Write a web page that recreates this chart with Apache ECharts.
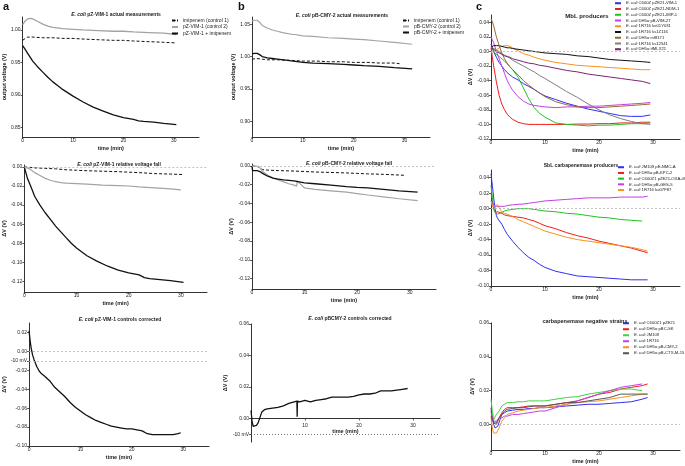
<!DOCTYPE html>
<html><head><meta charset="utf-8">
<script src="https://cdn.jsdelivr.net/npm/echarts@6/dist/echarts.min.js"></script>
<style>html,body{margin:0;padding:0;background:#fff}#c{width:685px;height:466px}</style>
</head><body><div id="c"></div>
<script>
// ---------- DATA ----------
// panel a (E. coli pZ-VIM-1)
const tA1Imi = [0,0.5,1,2,4,6,8,10,12,15,18,20,22,25,28,30.5];
const vA1Imi = [0.984,0.987,0.989,0.989,0.988,0.988,0.987,0.987,0.986,0.985,0.984,0.984,0.983,0.982,0.981,0.980];
const tA1Ctl = [0,0.5,1,1.5,2,3,4,5,6,8,10,12,15,18,20,22,25,28,30.5];
const vA1Ctl = [1.008,1.014,1.017,1.018,1.017,1.013,1.009,1.006,1.004,1.002,1.001,1.000,0.999,0.998,0.998,0.997,0.996,0.995,0.993];
const tA1Main = [0,0.5,1,2,3,4,5,6,7,8,10,12,14,16,18,20,22,23,24,26,28,30.5];
const vA1Main = [0.976,0.970,0.964,0.952,0.943,0.935,0.927,0.920,0.914,0.908,0.898,0.889,0.881,0.875,0.869,0.865,0.862,0.860,0.859,0.858,0.856,0.854];

const tA2Imi = [0,1,2,4,6,8,10,12,15,18,20,22,25,28,30.5];
const vA2Imi = [0,-0.0005,-0.001,-0.0015,-0.002,-0.003,-0.0035,-0.004,-0.0045,-0.005,-0.0055,-0.006,-0.007,-0.0075,-0.008];
const tA2Ctl = [0,0.5,1,1.5,2,3,4,5,6,7,8,10,12,15,18,20,22,25,28,30];
const vA2Ctl = [0,-0.001,-0.002,-0.004,-0.006,-0.009,-0.012,-0.014,-0.0155,-0.0165,-0.017,-0.0175,-0.018,-0.019,-0.0195,-0.02,-0.021,-0.022,-0.023,-0.024];
const tA2Main = [0,0.3,0.6,1,1.5,2,3,4,5,6,7,8,9,10,12,14,16,18,20,22,23,24,26,28,30.5];
const vA2Main = [0,-0.006,-0.012,-0.017,-0.024,-0.031,-0.040,-0.048,-0.055,-0.062,-0.068,-0.074,-0.080,-0.085,-0.093,-0.099,-0.104,-0.108,-0.111,-0.113,-0.116,-0.117,-0.118,-0.119,-0.121];

const tA3 = [0,0.2,0.4,0.7,1,1.5,2,2.5,3,4,5,6,7,8,9,10,11,12,13,14,15,16,17,18,19,20,21,22,23,24,25,26,27,28,29,29.5];
const vA3 = [0.022,0.012,0.004,-0.004,-0.009,-0.016,-0.021,-0.024,-0.026,-0.031,-0.038,-0.043,-0.048,-0.054,-0.059,-0.063,-0.067,-0.070,-0.073,-0.075,-0.077,-0.079,-0.080,-0.081,-0.082,-0.082,-0.083,-0.084,-0.087,-0.088,-0.088,-0.088,-0.088,-0.088,-0.087,-0.086];

// panel b (E. coli pB-CMY-2)
const tB1Imi = [0,1,2,3,5,8,10,13,15,18,20,23,25,28,29];
const vB1Imi = [0.996,0.997,0.996,0.995,0.995,0.994,0.993,0.993,0.992,0.992,0.991,0.991,0.990,0.990,0.989];
const tB1Ctl = [0,0.5,1,1.5,2,3,4,5,6,8,8.3,8.4,10,12,15,18,20,22,25,28,31.5];
const vB1Ctl = [1.055,1.056,1.056,1.053,1.048,1.044,1.041,1.039,1.037,1.034,1.037,1.034,1.032,1.031,1.029,1.028,1.027,1.026,1.024,1.022,1.019];
const tB1Main = [0,0.5,1,1.5,2,3,4,5,7,10,12,15,18,20,22,25,28,31.5];
const vB1Main = [1.004,1.005,1.005,1.003,1.000,0.998,0.997,0.996,0.994,0.991,0.990,0.989,0.988,0.987,0.986,0.985,0.983,0.981];

const tB2Imi = [0,1,1.5,2,3,5,8,10,12,15,18,20,22,25,27,29];
const vB2Imi = [0,-0.0005,-0.002,-0.004,-0.0045,-0.005,-0.0055,-0.006,-0.0065,-0.007,-0.0075,-0.008,-0.0085,-0.009,-0.0095,-0.010];
const tB2Ctl = [0,1,1.5,2,3,4,5,6,7,8,8.5,8.6,10,12,15,18,20,22,25,28,31.5];
const vB2Ctl = [0,-0.0005,-0.002,-0.006,-0.010,-0.013,-0.015,-0.017,-0.019,-0.0205,-0.0215,-0.016,-0.0235,-0.025,-0.0265,-0.028,-0.0295,-0.031,-0.033,-0.035,-0.037];
const tB2Main = [0,0.1,1,1.5,2,3,4,5,6,8,10,12,15,18,20,22,25,28,31.5];
const vB2Main = [0,-0.005,-0.005,-0.006,-0.008,-0.011,-0.013,-0.014,-0.015,-0.016,-0.018,-0.019,-0.0205,-0.022,-0.0228,-0.0235,-0.025,-0.0265,-0.028];

const tB3 = [0,0.2,0.4,0.7,1,1.3,1.6,2,2.5,3,4,5,6,7,8,8.5,8.55,8.6,9,10,11,12,13,14,15,16,17,18,19,20,21,22,23,24,25,26,27,28,29];
const vB3 = [0.005,-0.002,-0.005,-0.005,-0.0045,-0.003,0.000,0.004,0.0055,0.006,0.0065,0.007,0.008,0.0095,0.0105,0.011,0.001,0.011,0.0105,0.0115,0.0105,0.0115,0.012,0.0125,0.0135,0.0135,0.0135,0.0135,0.014,0.015,0.0155,0.0155,0.016,0.0175,0.0175,0.0175,0.018,0.0185,0.019];

// panel c top: MbL producers
const tC1 = [0,0.25,0.5,1,1.5,2,2.5,3,3.5,4,5,6,7,8,9,10,12,14,16,18,20,22,24,26,28,29.5];
const c1VIM1 = [0.010,0.006,0.000,-0.008,-0.015,-0.020,-0.025,-0.029,-0.032,-0.035,-0.039,-0.044,-0.048,-0.052,-0.057,-0.061,-0.066,-0.071,-0.075,-0.079,-0.082,-0.085,-0.088,-0.089,-0.089,-0.087];
const c1NDM1 = [0.005,-0.008,-0.020,-0.042,-0.060,-0.072,-0.080,-0.086,-0.090,-0.093,-0.097,-0.099,-0.100,-0.100,-0.100,-0.100,-0.100,-0.100,-0.0995,-0.0995,-0.099,-0.099,-0.098,-0.098,-0.097,-0.097];
const c1IMP1 = [0.005,0.003,0.000,-0.004,-0.007,-0.010,-0.013,-0.017,-0.021,-0.025,-0.035,-0.050,-0.065,-0.077,-0.085,-0.090,-0.098,-0.100,-0.101,-0.102,-0.101,-0.101,-0.100,-0.099,-0.099,-0.098];
const c1VIM27 = [0.020,0.016,0.012,0.000,-0.010,-0.020,-0.030,-0.040,-0.047,-0.053,-0.062,-0.068,-0.072,-0.074,-0.075,-0.076,-0.077,-0.076,-0.076,-0.075,-0.075,-0.074,-0.073,-0.072,-0.071,-0.070];
const c1Y031 = [0.000,-0.003,-0.004,0.002,0.005,0.007,0.008,0.008,0.007,0.005,0.001,-0.003,-0.005,-0.008,-0.010,-0.012,-0.015,-0.017,-0.019,-0.020,-0.021,-0.022,-0.023,-0.024,-0.025,-0.025];
const c1Z116 = [0.006,0.007,0.008,0.008,0.008,0.007,0.006,0.005,0.005,0.004,0.003,0.002,0.001,0.000,-0.001,-0.002,-0.003,-0.004,-0.006,-0.007,-0.009,-0.011,-0.012,-0.013,-0.014,-0.015];
const c1B171 = [0.045,0.041,0.035,0.020,0.008,-0.002,-0.010,-0.016,-0.021,-0.025,-0.032,-0.040,-0.046,-0.052,-0.057,-0.062,-0.069,-0.073,-0.076,-0.077,-0.077,-0.076,-0.075,-0.074,-0.073,-0.072];
const c1Z541 = [0.006,0.005,0.004,0.002,0.000,-0.003,-0.005,-0.007,-0.009,-0.012,-0.016,-0.020,-0.024,-0.028,-0.033,-0.037,-0.046,-0.055,-0.063,-0.072,-0.080,-0.087,-0.092,-0.096,-0.099,-0.100];
const c1MLX = [0.005,0.004,0.003,0.000,-0.002,-0.004,-0.006,-0.007,-0.008,-0.010,-0.012,-0.014,-0.016,-0.017,-0.019,-0.020,-0.023,-0.026,-0.028,-0.031,-0.033,-0.035,-0.037,-0.039,-0.041,-0.044];

// panel c middle: SbL carbapenemase producers
const tC2 = [0,0.25,0.5,0.75,1,1.25,1.5,2,2.5,3,4,5,6,7,8,9,10,12,14,16,18,20,22,24,26,28,29];
const c2NMC = [0.045,0.030,0.014,0.000,-0.009,-0.013,-0.015,-0.020,-0.027,-0.033,-0.042,-0.050,-0.057,-0.063,-0.067,-0.072,-0.076,-0.081,-0.084,-0.087,-0.088,-0.089,-0.090,-0.091,-0.092,-0.092,-0.092];
const c2KPC = [0.020,0.010,0.000,-0.005,-0.006,-0.004,-0.003,-0.006,-0.008,-0.009,-0.010,-0.011,-0.012,-0.014,-0.016,-0.019,-0.022,-0.026,-0.031,-0.035,-0.038,-0.042,-0.045,-0.048,-0.051,-0.055,-0.057];
const c2OXA = [0.030,0.015,0.000,-0.005,-0.007,-0.007,-0.006,-0.005,-0.003,-0.002,-0.001,0.000,0.000,0.000,-0.001,-0.002,-0.003,-0.004,-0.006,-0.007,-0.009,-0.011,-0.012,-0.014,-0.015,-0.016,null];
const c2GES = [0.010,0.007,0.004,0.003,0.003,0.003,0.003,0.003,0.003,0.004,0.005,0.0056,0.006,0.007,0.008,0.009,0.010,0.011,0.012,0.013,0.014,0.014,0.014,0.015,0.015,0.015,0.016];
const c2F87 = [0.010,0.003,0.002,0.004,0.005,0.005,0.001,-0.004,-0.006,-0.007,-0.010,-0.014,-0.017,-0.020,-0.023,-0.026,-0.029,-0.033,-0.037,-0.040,-0.042,-0.044,-0.046,-0.048,-0.050,-0.053,-0.055];

// panel c bottom: carbapenemase negative strains
const tC3 = [0,0.25,0.5,0.75,1,1.25,1.5,2,2.5,3,4,5,6,7,8,9,10,12,14,16,18,20,22,24,26,28,29];
const c3ZE21 = [0.010,0.004,0.000,-0.002,-0.002,-0.001,0.000,0.006,0.007,0.008,0.0085,0.009,0.009,0.0095,0.0095,0.010,0.010,0.0105,0.011,0.0115,0.012,0.012,0.0125,0.013,0.0135,0.015,0.016];
const c3BCSK = [0.008,0.004,0.001,0.000,0.000,0.002,0.004,0.007,0.009,0.010,0.010,0.010,0.0105,0.011,0.011,0.011,0.011,0.012,0.013,0.014,0.016,0.018,0.019,0.021,0.022,0.023,0.024];
const c3JM = [0.015,0.008,0.003,0.004,0.006,0.007,0.008,0.011,0.012,0.013,0.013,0.0135,0.0135,0.014,0.014,0.014,0.014,0.015,0.016,0.0165,0.018,0.019,0.020,0.021,0.021,0.020,null];
const c3R716 = [0.006,0.004,0.002,0.002,0.002,0.003,0.004,0.004,0.005,0.005,0.006,0.006,0.0065,0.007,0.0075,0.008,0.008,0.010,0.012,0.014,0.016,0.018,0.020,0.022,0.023,0.024,null];
const c3CMY = [0.004,-0.002,-0.005,-0.005,-0.005,-0.004,-0.002,0.002,0.004,0.006,0.007,0.008,0.0085,0.009,0.0095,0.010,0.010,0.011,0.012,0.013,0.0135,0.014,0.015,0.016,0.017,0.018,0.018];
const c3CTX = [0.005,0.003,0.001,0.001,0.001,0.002,0.004,0.006,0.008,0.009,0.0095,0.010,0.010,0.0105,0.011,0.011,0.011,0.012,0.013,0.013,0.014,0.015,0.016,0.018,0.018,0.018,0.018];

// tick labels
const xTicks = [0,10,20,30];
const xTicksB3 = [10,20,30];
const yTicksA1 = [0.85,0.90,0.95,1.00];
const yTicksB1 = [0.90,0.95,1.00,1.05];
const yTicksRel = [-0.12,-0.10,-0.08,-0.06,-0.04,-0.02,0];
const yTicksA3 = [-0.10,-0.08,-0.06,-0.04,-0.02,-0.01,0,0.02];
const yTicksB3 = [-0.01,0,0.02,0.04,0.06];
const yTicksC1 = [-0.12,-0.10,-0.08,-0.06,-0.04,-0.02,0,0.02,0.04];
const yTicksC2 = [-0.10,-0.08,-0.06,-0.04,-0.02,0,0.02,0.04];
const yTicksC3 = [0,0.02,0.04,0.06];

// ---------- CHART ----------
const F = '"Liberation Sans", Arial, sans-serif';
const INK = '#222';
const zip = (t, v) => t.map((x, i) => [x, v[i]]);
const yFmt = v => Math.abs(v + 0.01) < 1e-9 ? '-10 mV' : v.toFixed(2);
const ital = n => n.indexOf('E. coli') === 0 ? '{i|E. coli}' + n.slice(7) : n;

const grids = [], xAxes = [], yAxes = [], series = [], titles = [], legends = [];

function panel(p) {
  const gi = grids.length;
  grids.push({left: p.left, top: p.top, width: p.width, height: p.height});
  xAxes.push({
    type: 'value', gridIndex: gi, min: 0, max: 35, offset: p.xOffset || 0,
    axisLine: {show: true, onZero: false, lineStyle: {color: '#333', width: 1}},
    axisTick: {show: true, length: 2, customValues: p.xTicks || xTicks, lineStyle: {color: '#333', width: 0.8}},
    axisLabel: {customValues: p.xTicks || xTicks, fontSize: 5, color: INK, margin: p.xMargin || 1.5, fontFamily: F},
    splitLine: {show: false},
    name: 'time (min)', nameLocation: 'middle', nameGap: p.xNameGap || 8,
    nameTextStyle: {fontSize: 5.5, fontWeight: 'bold', color: INK, fontFamily: F}
  });
  yAxes.push({
    type: 'value', gridIndex: gi, min: p.ymin, max: p.ymax,
    axisLine: {show: true, onZero: false, lineStyle: {color: '#333', width: 1}},
    axisTick: {show: true, length: 2, customValues: p.yTicks, lineStyle: {color: '#333', width: 0.8}},
    axisLabel: {customValues: p.yTicks, formatter: yFmt, fontSize: 5, color: INK, margin: 2, fontFamily: F},
    splitLine: {show: false},
    name: p.yName, nameLocation: 'middle', nameGap: p.yNameGap,
    nameTextStyle: {fontSize: 5.5, fontWeight: 'bold', color: INK, fontFamily: F}
  });
  titles.push({
    text: p.title, left: p.tx, top: p.ty, textAlign: 'center',
    textStyle: {fontSize: p.tfs || 5, fontWeight: 'bold', color: INK, fontFamily: F,
      rich: {i: {fontStyle: 'italic', fontWeight: 'bold', fontSize: p.tfs || 5, color: INK, fontFamily: F}}}
  });
  p.series.forEach((s, k) => {
    const o = {
      type: 'line', name: s.name, xAxisIndex: gi, yAxisIndex: gi,
      data: s.data, symbol: 'none', showSymbol: false, connectNulls: false,
      lineStyle: {color: s.color, width: s.width || 1, type: s.dash || 'solid'},
      itemStyle: {color: s.color}, z: s.z || 2, silent: true
    };
    if (k === 0 && p.refs) {
      o.markLine = {silent: true, symbol: ['none', 'none'], label: {show: false},
        data: p.refs.map(r => ({yAxis: r.y, lineStyle: {color: r.color, type: r.type, width: 0.8}}))};
    }
    series.push(o);
  });
  if (p.legend) {
    legends.push(Object.assign({
      orient: 'vertical', padding: 0, selectedMode: false,
      data: p.series.map(s => s.name),
      formatter: ital,
      textStyle: {fontSize: p.legend.fs || 5, lineHeight: p.legend.lh || 5, color: INK, fontFamily: F,
        rich: {i: {fontStyle: 'italic', fontSize: p.legend.fs || 5, lineHeight: p.legend.lh || 5, color: INK, fontFamily: F}}}
    }, p.legend.pos));
  }
}

const BLK = '#111', GRY = '#a3a3a3';
const dashGray = {color: '#b5b5b5', type: [2, 2]};

panel({left: 22, top: 17, width: 177, height: 120, ymin: 0.835, ymax: 1.02, yTicks: yTicksA1,
  yName: 'output voltage (V)', yNameGap: 6, title: '{i|E. coli} pZ-VIM-1 actual measurements', tx: 111, ty: 7,
  series: [
    {name: 'imipenem (control 1)', data: zip(tA1Imi, vA1Imi), color: BLK, width: 1, dash: [3, 2]},
    {name: 'pZ-VIM-1 (control 2)', data: zip(tA1Ctl, vA1Ctl), color: GRY, width: 1.3},
    {name: 'pZ-VIM-1 + imipenem', data: zip(tA1Main, vA1Main), color: BLK, width: 1.3}
  ],
  legend: {pos: {left: 171, top: 18, itemWidth: 6, itemHeight: 2, itemGap: 1.5}}
});
panel({left: 22, top: 165, width: 185, height: 127, ymin: -0.131, ymax: 0.002, yTicks: yTicksRel,
  yName: 'ΔV (V)', yNameGap: 8, title: '{i|E. coli} pZ-VIM-1 relative voltage fall', tx: 114, ty: 157,
  refs: [{y: 0, ...dashGray}],
  series: [
    {name: 'imipenem (control 1)', data: zip(tA2Imi, vA2Imi), color: BLK, width: 1, dash: [3, 2]},
    {name: 'pZ-VIM-1 (control 2)', data: zip(tA2Ctl, vA2Ctl), color: GRY, width: 1.2},
    {name: 'pZ-VIM-1 + imipenem', data: zip(tA2Main, vA2Main), color: BLK, width: 1.3}
  ]
});
panel({left: 23, top: 323, width: 186, height: 123, ymin: -0.10, ymax: 0.03, yTicks: yTicksA3,
  yName: 'ΔV (V)', yNameGap: 9, title: '{i|E. coli} pZ-VIM-1 controls corrected', tx: 115, ty: 312,
  refs: [{y: 0, ...dashGray}, {y: -0.01, ...dashGray}],
  series: [{name: 'pZ-VIM-1 corrected', data: zip(tA3, vA3), color: BLK, width: 1.3}]
});

panel({left: 252, top: 17, width: 178, height: 120, ymin: 0.876, ymax: 1.061, yTicks: yTicksB1,
  yName: 'output voltage (V)', yNameGap: 9, title: '{i|E. coli} pB-CMY-2 actual measurements', tx: 337, ty: 8,
  series: [
    {name: 'imipenem (control 1)', data: zip(tB1Imi, vB1Imi), color: BLK, width: 1, dash: [3, 2]},
    {name: 'pB-CMY-2 (control 2)', data: zip(tB1Ctl, vB1Ctl), color: GRY, width: 1.2},
    {name: 'pB-CMY-2 + imipenem', data: zip(tB1Main, vB1Main), color: BLK, width: 1.3}
  ],
  legend: {pos: {left: 402, top: 18, itemWidth: 6, itemHeight: 2, itemGap: 1}}
});
panel({left: 252, top: 164, width: 184, height: 125, ymin: -0.131, ymax: 0.002, yTicks: yTicksRel,
  yName: 'ΔV (V)', yNameGap: 10, title: '{i|E. coli} pB-CMY-2 relative voltage fall', tx: 344, ty: 156,
  refs: [{y: 0, ...dashGray}],
  series: [
    {name: 'imipenem (control 1)', data: zip(tB2Imi, vB2Imi), color: BLK, width: 1, dash: [3, 2]},
    {name: 'pB-CMY-2 (control 2)', data: zip(tB2Ctl, vB2Ctl), color: GRY, width: 1.2},
    {name: 'pB-CMY-2 + imipenem', data: zip(tB2Main, vB2Main), color: BLK, width: 1.3}
  ]
});
panel({left: 251, top: 324, width: 189, height: 118, ymin: -0.015, ymax: 0.06, yTicks: yTicksB3,
  xTicks: xTicksB3, xOffset: -23.6, xMargin: 4.5, xNameGap: 9,
  yName: 'ΔV (V)', yNameGap: 10, title: '{i|E. coli} pBCMY-2 controls corrected', tx: 345, ty: 311,
  refs: [{y: -0.01, color: '#555', type: [1, 2]}],
  series: [{name: 'pB-CMY-2 corrected', data: zip(tB3, vB3), color: BLK, width: 1.3}]
});

const BLU = '#2f2ff5', RED = '#f01c1c', GRN = '#22c322', VIO = '#c63de8', ORA = '#f7931e',
      BRN = '#9b6a30', GR2 = '#808080', PUR = '#7a2474';
panel({left: 491, top: 15, width: 189, height: 124, ymin: -0.12, ymax: 0.05, yTicks: yTicksC1,
  yName: 'ΔV (V)', yNameGap: 8, title: 'MbL producers', tx: 582, ty: 8, tfs: 6,
  refs: [{y: 0, ...dashGray}],
  series: [
    {name: 'E. coli C600Z pZE21-VIM-1', data: zip(tC1, c1VIM1), color: BLU},
    {name: 'E. coli C600Z pZE21-NDM-1', data: zip(tC1, c1NDM1), color: RED},
    {name: 'E. coli C600Z pZE21-IMP-1', data: zip(tC1, c1IMP1), color: GRN},
    {name: 'E. coli DH5α pB-VIM-27', data: zip(tC1, c1VIM27), color: VIO},
    {name: 'E. coli 1R716 ke01Y031', data: zip(tC1, c1Y031), color: ORA},
    {name: 'E. coli 1R716 ks1Z116', data: zip(tC1, c1Z116), color: BLK},
    {name: 'E. coli DH5α inf8171', data: zip(tC1, c1B171), color: BRN},
    {name: 'E. coli 1R716 ks12541', data: zip(tC1, c1Z541), color: GR2},
    {name: 'E. coli DH5α tfMLX21', data: zip(tC1, c1MLX), color: PUR}
  ],
  legend: {fs: 4.2, lh: 4.5, pos: {left: 614, top: 1, itemWidth: 6, itemHeight: 2, itemGap: 1.25}}
});
panel({left: 491, top: 170, width: 189, height: 116, ymin: -0.10, ymax: 0.05, yTicks: yTicksC2,
  yName: 'ΔV (V)', yNameGap: 8, title: 'SbL carbapenemase producers', tx: 576, ty: 158, tfs: 5,
  refs: [{y: 0, ...dashGray}],
  series: [
    {name: 'E. coli JM109 pE-NMC-A', data: zip(tC2, c2NMC), color: BLU},
    {name: 'E. coli DH5α pB-KPC-2', data: zip(tC2, c2KPC), color: RED},
    {name: 'E. coli C600Z1 pZE21-OXA-48', data: zip(tC2, c2OXA), color: GRN},
    {name: 'E. coli DH5α pB-GES-5', data: zip(tC2, c2GES), color: VIO},
    {name: 'E. coli 1R716 ko07F87', data: zip(tC2, c2F87), color: ORA}
  ],
  legend: {fs: 4.2, lh: 4.5, pos: {left: 617, top: 165, itemWidth: 6, itemHeight: 2, itemGap: 1.2}}
});
panel({left: 491, top: 323, width: 189, height: 127, ymin: -0.015, ymax: 0.06, yTicks: yTicksC3,
  yName: 'ΔV (V)', yNameGap: 8, title: 'carbapenemase negative strains', tx: 580, ty: 313, tfs: 5.5,
  refs: [{y: 0, ...dashGray}],
  series: [
    {name: 'E. coli C600Z1 pZE21', data: zip(tC3, c3ZE21), color: BLU},
    {name: 'E. coli DH5α pBC-SK', data: zip(tC3, c3BCSK), color: RED},
    {name: 'E. coli JM109', data: zip(tC3, c3JM), color: '#3fd43f'},
    {name: 'E. coli 1R716', data: zip(tC3, c3R716), color: VIO},
    {name: 'E. coli DH5α pB-CMY-2', data: zip(tC3, c3CMY), color: ORA},
    {name: 'E. coli DH5α pB-CTX-M-15', data: zip(tC3, c3CTX), color: '#555'}
  ],
  legend: {fs: 4.2, lh: 4.5, pos: {left: 622, top: 321, itemWidth: 6, itemHeight: 2, itemGap: 1.5}}
});

const chart = echarts.init(document.getElementById('c'), null, {renderer: 'canvas'});
chart.setOption({
  animation: false,
  backgroundColor: '#fff',
  title: titles,
  legend: legends,
  grid: grids,
  xAxis: xAxes,
  yAxis: yAxes,
  series: series,
  graphic: [
    {type: 'text', left: 3, top: 1, style: {text: 'a', font: 'bold 11px ' + F, fill: '#111'}},
    {type: 'text', left: 238, top: 1, style: {text: 'b', font: 'bold 11px ' + F, fill: '#111'}},
    {type: 'text', left: 476, top: 1, style: {text: 'c', font: 'bold 11px ' + F, fill: '#111'}}
  ]
});
</script>
</body></html>
